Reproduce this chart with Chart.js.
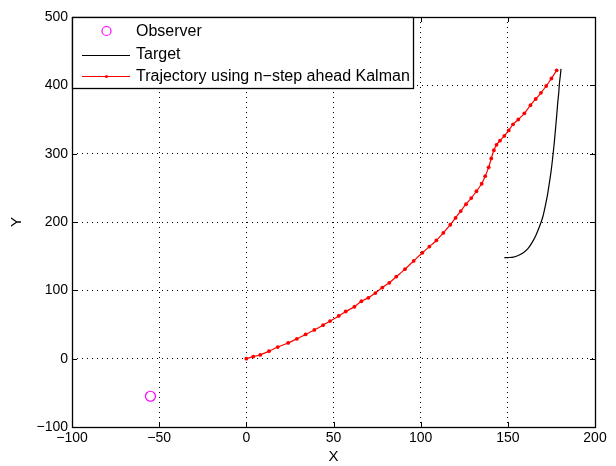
<!DOCTYPE html>
<html>
<head>
<meta charset="utf-8">
<script src="https://cdn.jsdelivr.net/npm/chart.js@4.4.1/dist/chart.umd.min.js"></script>
<style>
  html, body { margin: 0; padding: 0; background: #fff; }
  #wrap { width: 616px; height: 466px; position: relative; }
</style>
</head>
<body>
<div id="wrap"><canvas id="c" width="616" height="466"></canvas></div>
<script>
// ---- data ----
const observerX = [-55];
const observerY = [-55];

const targetX = [148, 150, 153.2, 156, 158.9, 161.5, 163.7, 166, 168.1, 170, 171.4, 172.7, 173.8, 174.9, 175.8, 176.6, 177.3, 178, 178.6, 179.2, 179.6, 180.1, 180.5];
const targetY = [148, 148, 148.5, 151, 155, 161, 169, 180, 193, 207, 222.5, 239, 256.8, 276, 295.8, 315, 334.8, 355, 374, 389, 403, 414, 424];

const trajX = [0, 4, 8, 13, 18, 24, 29, 34, 39, 44, 48, 53, 57, 62, 66, 70, 74, 78, 82, 86, 91, 96, 101, 105, 109, 113, 117, 120, 123, 126, 129, 132, 135, 137, 139, 140.5, 142, 143.5, 145.5, 148, 150.5, 153, 156, 159.5, 163, 166, 169, 172, 175, 178];
const trajY = [0, 3, 5.5, 11, 17, 23, 29, 35.5, 42, 49, 55, 62.5, 69, 76, 84, 89, 96, 104, 111, 120, 131, 143, 155, 164, 173, 184, 196, 206, 216, 226, 235, 245, 256, 267, 280, 293, 305, 313, 319, 326, 334, 343, 350, 359, 371, 380, 389, 399, 410, 422];

const xTicks = [-100, -50, 0, 50, 100, 150, 200];
const yTicks = [-100, 0, 100, 200, 300, 400, 500];

const legendLabels = ['Observer', 'Target', 'Trajectory using n\u2212step ahead Kalman'];

// ---- helpers ----
const FONT = '"Liberation Sans", Arial, Helvetica, sans-serif';
const pts = (xs, ys) => xs.map((x, i) => ({ x: x, y: ys[i] }));
const fmt = v => (v < 0 ? '\u2212' + Math.abs(v) : String(v));

const boxPlugin = {
  id: 'boxAndLegend',
  afterDatasetsDraw(chart) {
    const ctx = chart.ctx;
    const a = chart.chartArea;
    const xs = chart.scales.x, ys = chart.scales.y;
    ctx.save();
    // inward tick marks on all four sides
    ctx.strokeStyle = '#000';
    ctx.lineWidth = 1;
    ctx.beginPath();
    const tl = 5;
    xTicks.forEach(v => {
      const px = Math.round(xs.getPixelForValue(v)) + 0.5;
      ctx.moveTo(px, a.bottom); ctx.lineTo(px, a.bottom - tl);
      ctx.moveTo(px, a.top); ctx.lineTo(px, a.top + tl);
    });
    yTicks.forEach(v => {
      const py = Math.round(ys.getPixelForValue(v)) + 0.5;
      ctx.moveTo(a.left, py); ctx.lineTo(a.left + tl, py);
      ctx.moveTo(a.right, py); ctx.lineTo(a.right - tl, py);
    });
    ctx.stroke();
    // box
    ctx.lineWidth = 1.3;
    ctx.strokeRect(Math.round(a.left) + 0.5, Math.round(a.top) + 0.5, Math.round(a.right - a.left), Math.round(a.bottom - a.top));

    // legend
    ctx.font = '16px ' + FONT;
    const textX = a.left + 64;
    let maxW = 0;
    legendLabels.forEach(t => { maxW = Math.max(maxW, ctx.measureText(t).width); });
    const bx = Math.round(a.left) + 0.5, by = Math.round(a.top) + 0.5;
    const bw = Math.round(textX + maxW + 3 - a.left), bh = 71;
    ctx.fillStyle = '#fff';
    ctx.fillRect(bx, by, bw, bh);
    ctx.lineWidth = 1.3;
    ctx.strokeStyle = '#000';
    ctx.strokeRect(bx, by, bw, bh);
    const rows = [a.top + 14, a.top + 37.5, a.top + 59];
    const symL = a.left + 10, symR = a.left + 58, symC = a.left + 34.5;
    // observer
    ctx.strokeStyle = '#ff00ff';
    ctx.lineWidth = 1.2;
    ctx.beginPath(); ctx.arc(symC, rows[0], 4.5, 0, Math.PI * 2); ctx.stroke();
    // target
    ctx.strokeStyle = '#000'; ctx.lineWidth = 1;
    ctx.beginPath(); ctx.moveTo(symL, Math.round(rows[1]) + 0.5); ctx.lineTo(symR, Math.round(rows[1]) + 0.5); ctx.stroke();
    // trajectory
    ctx.strokeStyle = '#ff0000';
    ctx.beginPath(); ctx.moveTo(symL, Math.round(rows[2]) + 0.5); ctx.lineTo(symR, Math.round(rows[2]) + 0.5); ctx.stroke();
    ctx.fillStyle = '#ff0000';
    ctx.beginPath(); ctx.arc(symC, Math.round(rows[2]) + 0.5, 1.6, 0, Math.PI * 2); ctx.fill();
    // texts
    ctx.fillStyle = '#000';
    ctx.textBaseline = 'middle';
    ctx.textAlign = 'left';
    legendLabels.forEach((t, i) => ctx.fillText(t, textX, rows[i] + 0.5));
    ctx.restore();
  }
};

new Chart(document.getElementById('c'), {
  type: 'scatter',
  data: {
    datasets: [
      {
        label: legendLabels[0],
        data: pts(observerX, observerY),
        pointStyle: 'circle',
        pointRadius: 5,
        pointBorderWidth: 1.2,
        borderColor: '#ff00ff',
        backgroundColor: 'rgba(0,0,0,0)',
        showLine: false
      },
      {
        label: legendLabels[1],
        data: pts(targetX, targetY),
        showLine: true,
        borderColor: '#000',
        borderWidth: 1.2,
        pointRadius: 0,
        tension: 0.3,
        fill: false
      },
      {
        label: legendLabels[2],
        data: pts(trajX, trajY),
        showLine: true,
        borderColor: '#ff0000',
        backgroundColor: '#ff0000',
        borderWidth: 1.2,
        pointRadius: 1.9,
        pointBorderWidth: 0,
        tension: 0.25,
        fill: false
      }
    ]
  },
  options: {
    responsive: false,
    animation: false,
    devicePixelRatio: 1,
    layout: { padding: { left: 0, right: 21, top: 17, bottom: 0 } },
    plugins: { legend: { display: false }, tooltip: { enabled: false } },
    scales: {
      x: {
        type: 'linear',
        min: -100, max: 200,
        afterBuildTicks: s => { s.ticks = xTicks.map(v => ({ value: v })); },
        afterFit: s => { s.height = 39; },
        ticks: {
          color: '#000',
          font: { family: FONT, size: 14 },
          padding: 3,
          maxRotation: 0,
          callback: v => fmt(v)
        },
        grid: { color: '#000', lineWidth: 1, drawTicks: false },
        border: { display: false, dash: [1, 4] },
        title: { display: true, text: 'X', color: '#000', font: { family: FONT, size: 15 }, padding: { top: 0, bottom: 0 } }
      },
      y: {
        type: 'linear',
        min: -100, max: 500,
        afterBuildTicks: s => { s.ticks = yTicks.map(v => ({ value: v })); },
        afterFit: s => { s.width = 72; },
        ticks: {
          color: '#000',
          font: { family: FONT, size: 14 },
          padding: 4,
          callback: v => fmt(v)
        },
        grid: { color: '#000', lineWidth: 1, drawTicks: false },
        border: { display: false, dash: [1, 4] },
        title: { display: true, text: 'Y', color: '#000', font: { family: FONT, size: 15 }, padding: { top: 8, bottom: 0 } }
      }
    }
  },
  plugins: [boxPlugin]
});
</script>
</body>
</html>
